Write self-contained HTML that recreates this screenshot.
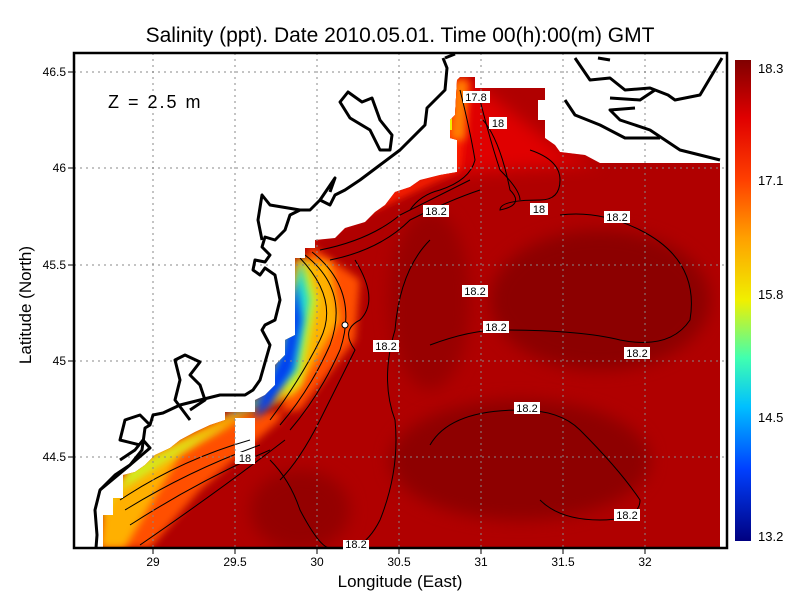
<!DOCTYPE html>
<html><head><meta charset="utf-8"><style>
html,body{margin:0;padding:0;background:#fff;width:800px;height:600px;overflow:hidden}
svg text{font-family:"Liberation Sans",sans-serif}
</style></head><body>
<svg width="800" height="600" viewBox="0 0 800 600" xmlns="http://www.w3.org/2000/svg">
<defs>
<clipPath id="plot"><rect x="74" y="53" width="653" height="495"/></clipPath>
<clipPath id="water"><path id="wp" d="M103,548 L103,515 L113,515 L113,498 L123,498 L123,475 L135,472 L145,465 L155,455 L170,448 L180,440 L195,432 L210,425 L225,420 L225,412 L255,412 L255,400 L265,395 L275,385 L275,365 L285,355 L285,340 L295,335 L295,258 L305,258 L305,248 L315,248 L315,240 L335,238 L345,228 L365,222 L375,212 L385,205 L395,192 L410,187 L420,180 L440,175 L457,172 L457,140 L450,138 L450,120 L455,115 L457,80 L460,77 L475,77 L475,88 L545,88 L545,100 L538,100 L538,120 L545,120 L545,138 L555,145 L560,152 L585,155 L600,163 L720,163 L720,548 Z"/></clipPath>
<linearGradient id="cb" x1="0" y1="0" x2="0" y2="1">
<stop offset="0" stop-color="#800000"/><stop offset="0.12" stop-color="#e00000"/><stop offset="0.25" stop-color="#ff4000"/><stop offset="0.37" stop-color="#ffa000"/><stop offset="0.5" stop-color="#f0f000"/><stop offset="0.62" stop-color="#40ffb0"/><stop offset="0.72" stop-color="#00c0ff"/><stop offset="0.85" stop-color="#0040ff"/><stop offset="1" stop-color="#000080"/>
</linearGradient>
<filter id="bl" x="-50%" y="-50%" width="200%" height="200%"><feGaussianBlur stdDeviation="8"/></filter>
<filter id="bl2" x="-50%" y="-50%" width="200%" height="200%"><feGaussianBlur stdDeviation="4"/></filter>
</defs>
<text x="400" y="42" font-size="21" text-anchor="middle">Salinity (ppt). Date 2010.05.01. Time 00(h):00(m) GMT</text>
<g clip-path="url(#plot)">
<g clip-path="url(#water)">
<rect x="74" y="53" width="653" height="495" fill="#b00000"/>
<ellipse cx="600" cy="300" rx="110" ry="70" fill="#8c0000" filter="url(#bl)"/>
<ellipse cx="520" cy="460" rx="130" ry="60" fill="#8e0000" filter="url(#bl)"/>
<ellipse cx="430" cy="300" rx="40" ry="90" fill="#980000" filter="url(#bl)"/>
<ellipse cx="300" cy="510" rx="50" ry="40" fill="#940000" filter="url(#bl)"/>
<path d="M440,175 L600,163 L560,150 L470,80 L450,80 Z" fill="#e00000" filter="url(#bl)"/>
<path d="M290,250 L460,170 L470,80 L450,80 L440,170 L300,230 Z" fill="#ff2000" filter="url(#bl2)"/>
<path d="M455,80 L468,80 L465,140 L450,140 Z" fill="#ff8000" filter="url(#bl2)"/>
<path d="M440,95 L452,95 L452,130 L440,130 Z" fill="#f0f000"/>
<path d="M100,548 L110,490 L150,455 L230,415 L300,410 L355,340 L360,280 L310,245 L280,420 L200,490 L150,548 Z" fill="#ff5000" filter="url(#bl2)"/>
<path d="M100,548 L104,500 L140,460 L230,415 L295,395 L340,320 L330,262 L295,258 L270,400 L180,455 L125,548 Z" fill="#ffb000" filter="url(#bl2)"/>
<path d="M100,520 L130,470 L190,440 L240,420 L300,385 L318,300 L305,258 L280,400 L200,440 L105,500 Z" fill="#d0f020" filter="url(#bl2)"/>
<path d="M220,418 L260,405 L297,370 L310,300 L300,258 L285,345 L265,395 Z" fill="#20e0d0" filter="url(#bl2)"/>
<path d="M255,420 L270,405 L293,370 L302,320 L296,280 L283,350 L262,396 Z" fill="#0040f0" filter="url(#bl2)"/>
<rect x="235" y="418" width="20" height="42" fill="#fff"/>
<g fill="none" stroke="#000" stroke-width="1">
<path d="M300,258 Q340,300 320,340 Q300,380 270,420 M305,255 Q350,290 330,345 Q310,390 280,425 M312,252 Q360,290 340,350 Q320,395 290,430"/>
<path d="M120,500 Q180,460 250,440 M125,510 Q190,470 260,445 M130,525 Q200,480 270,450 M140,545 Q220,490 285,440"/>
<path d="M320,250 Q370,240 400,215 Q440,195 470,180 M330,260 Q380,250 410,220 Q450,200 480,190"/>
<path d="M355,260 Q380,300 360,320 Q340,330 355,350 Q340,380 320,420 Q300,460 280,480"/>
<path d="M460,90 Q470,130 475,160 Q470,180 440,190 Q420,195 410,210 M480,100 Q490,140 500,170 Q520,190 520,200"/>
<path d="M483,120 Q500,140 510,190 Q525,205 500,210 Q500,200 540,200 Q560,200 560,180 Q560,160 530,150"/>
<path d="M430,240 Q400,270 395,330 Q380,380 395,420 Q400,470 380,520 Q370,540 355,548"/>
<path d="M560,215 Q600,210 640,230 Q700,260 690,320 Q670,350 620,340 Q580,330 500,330 Q470,330 430,345"/>
<path d="M430,445 Q450,410 520,410 Q560,410 580,430 Q620,470 640,500 Q640,520 600,520 Q560,520 540,500"/>
<path d="M270,460 Q290,480 300,510 Q320,548 330,548"/>
</g>
</g>
<g stroke="#888" stroke-width="1" stroke-dasharray="2,4" fill="none">
<path d="M153,53V548 M235,53V548 M317,53V548 M399,53V548 M481,53V548 M563,53V548 M645,53V548"/>
<path d="M74,72H727 M74,168H727 M74,265H727 M74,361H727 M74,457H727"/>
</g>
<g fill="none" stroke="#000" stroke-width="3" stroke-linejoin="round">
<path d="M96,548 L97,535 L95,510 L100,490 L115,475 L130,465 L142,450 L145,428 L150,425 L153,415 L163,413 L180,405 L220,395 L245,395 L253,390 L260,380 L270,345 L262,330 L265,325 L275,320 L280,300 L275,275 L265,268 L260,275 L253,270 L255,260 L265,262 L270,255 L262,247 L265,237 L275,240 L285,230 L290,215 L300,210 L310,210 L320,200 L330,205 L335,195 L345,190 L360,180 L380,165 L400,150 L425,125 L427,108 L445,90 L447,68 L443,58"/>
<path d="M100,490 L130,465 L150,448 L143,440 L135,450 L120,460 M150,425 L140,415 L125,420 L120,440 L140,445 M190,420 L175,400 L180,380 L175,360 L185,355 L200,362 L190,375 L200,385 L205,400 L190,410"/>
<path d="M300,210 L270,205 L262,195 L258,220 L262,240 M320,200 L335,178 L330,192 M340,102 L348,92 L362,102 L372,98 L380,120 L392,135 L390,150 L380,150 L370,130 L350,118 Z"/>
<path d="M445,58 L455,54 M575,58 L590,80 L610,78 L625,90 L650,88 L668,95 L675,100 L700,95 L722,58 M598,58 L610,60 M610,98 L640,100 L655,90 M635,108 L610,110 L620,120 L650,130 L680,150 L720,160 M565,100 L575,115 L600,125 L625,138 L660,138"/>
</g>
<circle cx="345" cy="325" r="3" fill="#fff" stroke="#000" stroke-width="1"/>
</g>
<rect x="74" y="53" width="653" height="495" fill="none" stroke="#000" stroke-width="2.5"/>
<g font-size="11" text-anchor="middle">
<rect x="463" y="91" width="27" height="12" fill="#fff"/><text x="476" y="101">17.8</text>
<rect x="489" y="117" width="18" height="12" fill="#fff"/><text x="498" y="127">18</text>
<rect x="423" y="205" width="26" height="12" fill="#fff"/><text x="436" y="215">18.2</text>
<rect x="530" y="203" width="18" height="12" fill="#fff"/><text x="539" y="213">18</text>
<rect x="604" y="211" width="26" height="12" fill="#fff"/><text x="617" y="221">18.2</text>
<rect x="462" y="285" width="26" height="12" fill="#fff"/><text x="475" y="295">18.2</text>
<rect x="483" y="321" width="26" height="12" fill="#fff"/><text x="496" y="331">18.2</text>
<rect x="373" y="340" width="26" height="12" fill="#fff"/><text x="386" y="350">18.2</text>
<rect x="624" y="347" width="26" height="12" fill="#fff"/><text x="637" y="357">18.2</text>
<rect x="514" y="402" width="26" height="12" fill="#fff"/><text x="527" y="412">18.2</text>
<rect x="614" y="509" width="26" height="12" fill="#fff"/><text x="627" y="519">18.2</text>
<rect x="343" y="540" width="26" height="10" fill="#fff"/><text x="356" y="548">18.2</text>
<rect x="235" y="452" width="20" height="12" fill="#fff"/><text x="245" y="462">18</text>
</g>
<text x="108" y="108" font-size="18" letter-spacing="2">Z = 2.5 m</text>
<g font-size="12" text-anchor="end">
<text x="66" y="76">46.5</text><text x="66" y="172">46</text><text x="66" y="269">45.5</text><text x="66" y="365">45</text><text x="66" y="461">44.5</text>
</g>
<g stroke="#000" stroke-width="1"><path d="M68,72H74 M68,168H74 M68,265H74 M68,361H74 M68,457H74 M153,548V554 M235,548V554 M317,548V554 M399,548V554 M481,548V554 M563,548V554 M645,548V554"/></g>
<g font-size="12" text-anchor="middle">
<text x="153" y="566">29</text><text x="235" y="566">29.5</text><text x="317" y="566">30</text><text x="399" y="566">30.5</text><text x="481" y="566">31</text><text x="563" y="566">31.5</text><text x="645" y="566">32</text>
</g>
<text x="400" y="587" font-size="17" text-anchor="middle">Longitude (East)</text>
<text x="31" y="305" font-size="17" text-anchor="middle" transform="rotate(-90 31 305)">Latitude (North)</text>
<rect x="735" y="60" width="16" height="481" fill="url(#cb)"/>
<g font-size="13">
<text x="758" y="73">18.3</text><text x="758" y="185">17.1</text><text x="758" y="299">15.8</text><text x="758" y="422">14.5</text><text x="758" y="541">13.2</text>
</g>
</svg>
</body></html>
